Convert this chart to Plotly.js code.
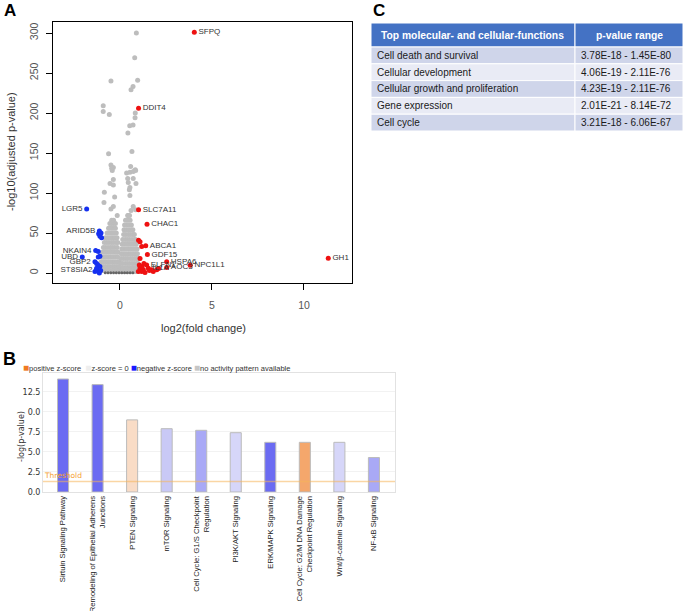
<!DOCTYPE html>
<html>
<head>
<meta charset="utf-8">
<script src="https://cdn.plot.ly/plotly-3.0.1.min.js"></script>
<style>html,body{margin:0;padding:0;background:#fff}#chart{width:685px;height:611px}</style>
</head>
<body>
<div id="chart"></div>
<script>
// ---------- Panel A: volcano plot data (log2FC, -log10 adj p) ----------
const nsScattered = [
  [0.89,300],[0.80,269],[-0.49,240],[0.96,241],[0.71,233],[0.60,229],[-0.91,209],[-0.91,202],
  [-0.58,198],[0.83,200],[0.82,194],[0.53,184],[0.71,185],[0.43,175],[0.65,152],[-0.62,149],
  [-0.49,135],[-0.36,132],[0.58,133],[0.83,129],[-0.42,128],[-0.45,131],[0.36,125],[0.54,126],
  [0.72,127],[0.85,128],[-0.36,117],[-0.54,112],[-0.36,110],[0.42,118],[0.72,118],[0.45,113],
  [0.87,112],[0.54,107],[0.51,104],[-0.85,101],[-0.29,95],[0.54,97],[-0.87,88],[-0.36,83],
  [0.72,83],[0.85,79],[-0.49,80],[0.60,78],[0.45,72],[-0.15,72]
];
const nsLeftLobe = [
  [-0.45,66],[-0.35,66],
  [-0.55,62],[-0.45,62],[-0.35,62],[-0.25,62],
  [-0.62,56],[-0.50,56],[-0.38,56],[-0.25,56],
  [-0.70,50],[-0.58,50],[-0.45,50],[-0.32,50],[-0.20,50],
  [-0.78,44],[-0.65,44],[-0.52,44],[-0.40,44],[-0.28,44],[-0.16,44],
  [-0.85,38],[-0.72,38],[-0.60,38],[-0.47,38],[-0.35,38],[-0.22,38],[-0.12,38],
  [-0.90,32],[-0.78,32],[-0.65,32],[-0.52,32],[-0.40,32],[-0.28,32],[-0.15,32],
  [-0.95,26],[-0.82,26],[-0.70,26],[-0.57,26],[-0.45,26],[-0.32,26],[-0.20,26],[-0.10,26],
  [-1.00,20],[-0.87,20],[-0.75,20],[-0.62,20],[-0.50,20],[-0.37,20],[-0.25,20],[-0.12,20],
  [-1.02,14],[-0.90,14],[-0.78,14],[-0.65,14],[-0.52,14],[-0.40,14],[-0.28,14],[-0.15,14],[-0.05,14],
  [-1.05,8],[-0.92,8],[-0.80,8],[-0.67,8],[-0.55,8],[-0.42,8],[-0.30,8],[-0.18,8],[-0.06,8],
  [-1.05,3],[-0.92,3],[-0.80,3],[-0.67,3],[-0.55,3],[-0.42,3],[-0.30,3],[-0.18,3],[-0.06,3]
];
const nsRightLobe = [
  [0.42,72],[0.52,72],
  [0.30,66],[0.42,66],[0.55,66],
  [0.25,60],[0.38,60],[0.50,60],[0.62,60],
  [0.22,54],[0.35,54],[0.48,54],[0.60,54],[0.70,54],
  [0.20,48],[0.32,48],[0.45,48],[0.57,48],[0.70,48],[0.78,48],
  [0.15,42],[0.28,42],[0.40,42],[0.52,42],[0.65,42],[0.78,42],[0.85,42],
  [0.12,36],[0.25,36],[0.38,36],[0.50,36],[0.62,36],[0.75,36],[0.88,36],
  [0.10,30],[0.22,30],[0.35,30],[0.47,30],[0.60,30],[0.72,30],[0.85,30],[0.93,30],
  [0.08,24],[0.20,24],[0.32,24],[0.45,24],[0.57,24],[0.70,24],[0.82,24],[0.95,24],
  [0.06,18],[0.18,18],[0.30,18],[0.42,18],[0.55,18],[0.67,18],[0.80,18],[0.92,18],[0.98,18],
  [0.04,12],[0.15,12],[0.28,12],[0.40,12],[0.52,12],[0.65,12],[0.77,12],[0.90,12],[0.98,12],
  [0.03,6],[0.14,6],[0.26,6],[0.38,6],[0.50,6],[0.62,6],[0.74,6],[0.86,6],[0.97,6],
  [0.02,2],[0.12,2],[0.24,2],[0.36,2],[0.48,2],[0.60,2],[0.72,2],[0.84,2],[0.96,2]
];
const nsBaseline = [
  [-0.8,0.4],[-0.65,0.4],[-0.5,0.3],[-0.35,0.3],[-0.2,0.2],[-0.05,0.2],
  [0.1,0.2],[0.25,0.3],[0.4,0.3],[0.55,0.4],[0.7,0.4]
];
// down-regulated (blue): [log2FC, -log10p, label]
const downGenes = [
  [-1.81,80,'LGR5'],
  [-1.12,52.5,'ARID5B'],[-1.16,49,''],[-1.09,46,''],[-1.00,44,''],[-1.03,50,''],
  [-1.32,28,'NKAIN4'],[-1.18,27,''],
  [-1.09,21,''],[-1.18,20,''],
  [-2.05,20,'UBD'],
  [-1.36,14,'GBP2'],[-1.27,12,''],[-1.20,10,''],
  [-1.27,4,'ST8SIA2'],[-1.16,2,''],[-1.36,2,''],[-1.09,8,''],[-1.12,0,''],[-1.27,6,''],[-1.05,3,'']
];
// up-regulated (red)
const upGenes = [
  [4.04,301,'SFPQ'],
  [1.01,206,'DDIT4'],
  [1.01,79,'SLC7A11'],
  [1.47,61,'CHAC1'],
  [1.01,41,''],[1.09,39,''],[1.18,33,''],[1.40,34,'ABCA1'],
  [1.49,23,'GDF15'],
  [1.09,18,''],
  [2.54,14,'HSPA6'],
  [3.82,9.6,'NPC1L1'],
  [2.54,7,'AOC3'],
  [2.10,5.5,''],
  [1.45,10,'ELFN1'],
  [1.54,6,'IL1A'],
  [1.72,4,''],[1.27,4,''],[1.09,6,''],[1.18,2,''],[1.00,2,''],[1.81,2,''],[2.00,4,''],
  [1.36,0.5,''],[1.20,8,''],[1.30,12,''],[1.05,10,''],[1.60,3,''],
  [11.32,18.4,'GH1']
];
const volcanoXTicks = [0,5,10];
const volcanoYTicks = [0,50,100,150,200,250,300];

// ---------- Panel B: canonical pathways ----------
const pathways = [
  'Sirtuin Signaling Pathway',
  'Remodeling of Epithelial Adherens<br>Junctions',
  'PTEN Signaling',
  'mTOR Signaling',
  'Cell Cycle: G1/S Checkpoint<br>Regulation',
  'PI3K/AKT Signaling',
  'ERK/MAPK Signaling',
  'Cell Cycle: G2/M DNA Damage<br>Checkpoint Regulation',
  'Wnt/β-catenin Signaling',
  'NF-κB Signaling'
];
const pathwayLogP = [14.1,13.4,9.0,7.9,7.7,7.4,6.2,6.2,6.2,4.3];
const pathwayColors = ['#6b6bf2','#6b6bf2','#f9dcc6','#c9c9f6','#a9a9f6','#d6d6f9','#6b6bf2','#f4a76c','#d6d6f9','#a9a9f6'];
const thresholdLogP = 1.3;
const barYTickVals = [0,2.5,5,7.5,10,12.5];
const barYTickText = ['0.0','2.5','5.0','7.5','0.0','12.5'];

// ---------- Panel C: table ----------
const tableHeader = ['Top molecular- and cellular-functions','p-value range'];
const functionsCol = ['Cell death and survival','Cellular development','Cellular growth and proliferation','Gene expression','Cell cycle'];
const pRangeCol = ['3.78E-18 - 1.45E-80','4.06E-19 - 2.11E-76','4.23E-19 - 2.11E-76','2.01E-21 - 8.14E-72','3.21E-18 - 6.06E-67'];

// ---------- build ----------
const W = 685, H = 611;
const px = v => v / W;
const py = v => 1 - v / H;

const nsAll = nsScattered.concat(nsLeftLobe, nsRightLobe);
const sans = 'Liberation Sans, Arial, sans-serif';
const volFont = {family:sans, size:8, color:'#333'};

const traces = [
  {type:'scatter', mode:'markers', x:nsAll.map(p=>p[0]), y:nsAll.map(p=>p[1]), xaxis:'x', yaxis:'y',
   marker:{color:'#bdbdbd', size:5}, hoverinfo:'skip'},
  {type:'scatter', mode:'markers', x:nsBaseline.map(p=>p[0]), y:nsBaseline.map(p=>p[1]), xaxis:'x', yaxis:'y',
   marker:{color:'#666', size:3}, hoverinfo:'skip'},
  {type:'scatter', mode:'markers+text', x:downGenes.map(p=>p[0]), y:downGenes.map(p=>p[1]), text:downGenes.map(p=>p[2]),
   textposition:'middle left', textfont:volFont, xaxis:'x', yaxis:'y', marker:{color:'#1530f0', size:5}, cliponaxis:false},
  {type:'scatter', mode:'markers+text', x:upGenes.map(p=>p[0]), y:upGenes.map(p=>p[1]), text:upGenes.map(p=>p[2]),
   textposition:'middle right', textfont:volFont, xaxis:'x', yaxis:'y', marker:{color:'#ee1111', size:5}, cliponaxis:false},
  {type:'bar', x:pathways, y:pathwayLogP, xaxis:'x2', yaxis:'y2', width:0.32,
   marker:{color:pathwayColors, line:{color:'#bbbbbb', width:1}}}
];

// ---- table (panel C) built as shapes + text ----
const tblLeft = 371, tblDiv = 575, tblRight = 683, tblTop = 23, hdrH = 24, rowH = 16.8;
const tblShapes = [], tblAnns = [];
const rect = (x0,x1,y0,y1,fill) => ({type:'rect', xref:'paper', yref:'paper', x0:px(x0), x1:px(x1), y0:py(y1), y1:py(y0),
  fillcolor:fill, line:{color:'#ffffff', width:1}, layer:'above'});
tblShapes.push(rect(tblLeft, tblDiv, tblTop, tblTop+hdrH, '#4472c4'));
tblShapes.push(rect(tblDiv, tblRight, tblTop, tblTop+hdrH, '#4472c4'));
tblAnns.push({text:'<b>'+tableHeader[0]+'</b>', xref:'paper', yref:'paper', x:px((tblLeft+tblDiv)/2), y:py(tblTop+hdrH/2),
  xanchor:'center', yanchor:'middle', showarrow:false, font:{family:sans, size:10.3, color:'#fff'}});
tblAnns.push({text:'<b>'+tableHeader[1]+'</b>', xref:'paper', yref:'paper', x:px((tblDiv+tblRight)/2), y:py(tblTop+hdrH/2),
  xanchor:'center', yanchor:'middle', showarrow:false, font:{family:sans, size:10.3, color:'#fff'}});
functionsCol.forEach((f,i) => {
  const y0 = tblTop + hdrH + i*rowH, y1 = y0 + rowH;
  const fill = i % 2 === 0 ? '#cfd5ea' : '#e9ebf5';
  tblShapes.push(rect(tblLeft, tblDiv, y0, y1, fill));
  tblShapes.push(rect(tblDiv, tblRight, y0, y1, fill));
  tblAnns.push({text:f, xref:'paper', yref:'paper', x:px(tblLeft+4), y:py((y0+y1)/2), xanchor:'left', yanchor:'middle',
    showarrow:false, font:{family:sans, size:10, color:'#1a1a1a'}});
  tblAnns.push({text:pRangeCol[i], xref:'paper', yref:'paper', x:px(tblDiv+4), y:py((y0+y1)/2), xanchor:'left', yanchor:'middle',
    showarrow:false, font:{family:sans, size:10, color:'#1a1a1a'}});
});

const bFont = {family:sans, size:7.6, color:'#222'};

const layout = {
  width:W, height:H, margin:{l:0,r:0,t:0,b:0}, showlegend:false,
  paper_bgcolor:'#fff', plot_bgcolor:'#fff',
  font:{family:sans},
  xaxis:{domain:[px(53), px(352)], range:[-3.64,12.61], tickvals:volcanoXTicks, ticks:'outside', ticklen:6,
         tickcolor:'#000', showline:true, mirror:true, linecolor:'#000', linewidth:1, zeroline:false, showgrid:false,
         tickfont:{size:10.5, color:'#555'}, ticklabelstandoff:6, anchor:'y'},
  yaxis:{domain:[py(283), py(22)], range:[-12.5,313.75], tickvals:volcanoYTicks, tickangle:-90, ticks:'outside', ticklen:6,
         tickcolor:'#000', showline:true, mirror:true, linecolor:'#000', linewidth:1, zeroline:false, showgrid:false,
         tickfont:{size:10.5, color:'#555'}, ticklabelstandoff:4, anchor:'x'},
  xaxis2:{domain:[px(43), px(395)], type:'category', range:[-0.58,9.61], tickangle:-90, ticks:'',
          showline:true, mirror:true, linecolor:'#e2e2e2', showgrid:false, zeroline:false,
          tickfont:bFont, anchor:'y2'},
  yaxis2:{domain:[py(492), py(373)], range:[0,14.85], tickvals:barYTickVals, ticktext:barYTickText,
          showgrid:true, gridcolor:'#f2f2f2', showline:true, mirror:true, linecolor:'#e2e2e2', zeroline:false,
          tickfont:{family:'DejaVu Sans, Verdana, sans-serif', size:8, color:'#333'}, anchor:'x2'},
  shapes:[
    {type:'line', xref:'x2 domain', x0:0, x1:1, yref:'y2', y0:thresholdLogP, y1:thresholdLogP,
     line:{color:'rgba(245,180,90,0.55)', width:1.5}}
  ].concat(tblShapes),
  annotations:[
    {text:'<b>A</b>', xref:'paper', yref:'paper', x:px(2), y:py(10), xanchor:'left', yanchor:'middle', showarrow:false,
     font:{family:sans, size:17, color:'#000'}},
    {text:'<b>B</b>', xref:'paper', yref:'paper', x:px(1), y:py(359), xanchor:'left', yanchor:'middle', showarrow:false,
     font:{family:sans, size:18, color:'#000'}},
    {text:'<b>C</b>', xref:'paper', yref:'paper', x:px(371), y:py(10), xanchor:'left', yanchor:'middle', showarrow:false,
     font:{family:sans, size:17, color:'#000'}},
    {text:'-log10(adjusted p-value)', xref:'paper', yref:'paper', x:px(11), y:py(152), textangle:-90, showarrow:false,
     xanchor:'center', yanchor:'middle', font:{family:sans, size:11, color:'#333'}},
    {text:'log2(fold change)', xref:'paper', yref:'paper', x:px(203), y:py(328), showarrow:false,
     xanchor:'center', yanchor:'middle', font:{family:sans, size:11, color:'#333'}},
    {text:'<span style="color:#f07a22;font-size:10px">■</span>positive z-score  <span style="color:#eeeeee;font-size:10px">■</span>z-score = 0 <span style="color:#1a1aff;font-size:10px">■</span>negative z-score <span style="color:#c6c6c6;font-size:10px">■</span>no activity pattern available',
     xref:'paper', yref:'paper', x:px(21), y:py(367), xanchor:'left', yanchor:'middle', showarrow:false,
     font:{family:sans, size:7.5, color:'#333'}},
    {text:'-log(p-value)', xref:'paper', yref:'paper', x:px(21), y:py(437), textangle:-90, showarrow:false,
     xanchor:'center', yanchor:'middle', font:{family:'DejaVu Sans, Verdana, sans-serif', size:8, color:'#333'}},
    {text:'Threshold', xref:'paper', yref:'y2', x:px(42), y:thresholdLogP, xanchor:'left', yanchor:'bottom', showarrow:false,
     font:{family:'DejaVu Sans, Verdana, sans-serif', size:7.5, color:'#f5a030'}}
  ].concat(tblAnns)
};

Plotly.newPlot('chart', traces, layout, {displayModeBar:false, staticPlot:true});
</script>
</body>
</html>
